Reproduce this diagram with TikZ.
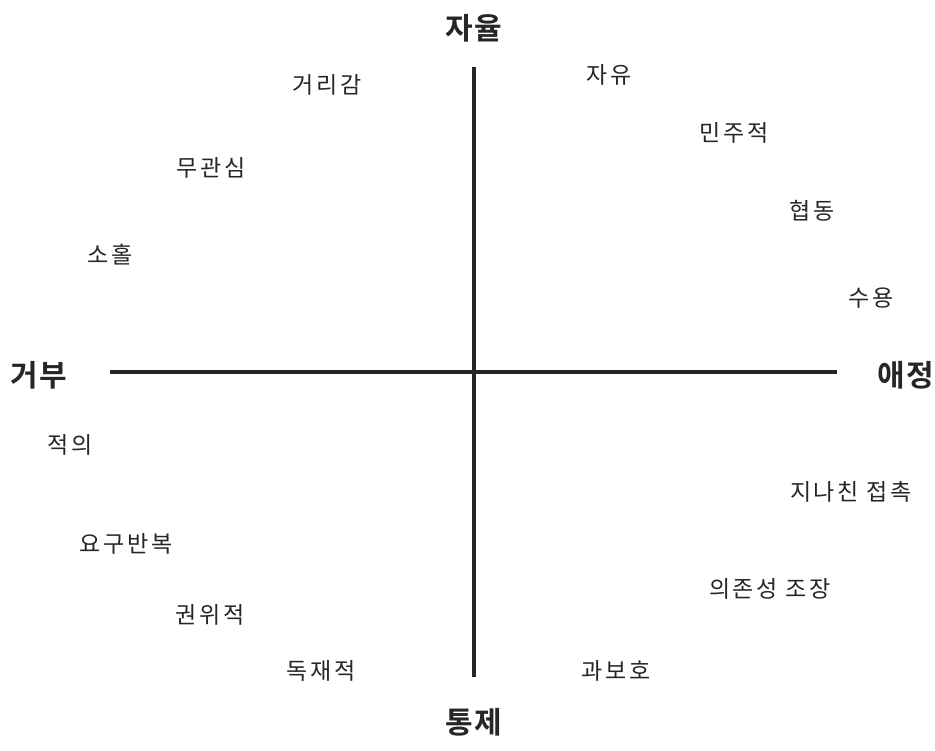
\documentclass[tikz,border=0pt]{standalone}
\usepackage{fontspec}
\newfontfamily\kr[LetterSpace=12]{Noto Sans CJK KR}
\newfontfamily\krb[LetterSpace=4]{Noto Sans CJK KR Bold}
\begin{document}
\begin{tikzpicture}[x=1pt,y=-1pt,
  lab/.style={font=\kr\fontsize{23}{23}\selectfont, text=black!85, inner sep=0pt},
  axlab/.style={font=\krb\fontsize{30}{30}\selectfont, text=black!85, inner sep=0pt},
  axis/.style={line width=4pt, black!85}]
\useasboundingbox[fill=white] (0,0) rectangle (935,751);
\coordinate (top) at (474,67);
\coordinate (bot) at (474,677);
\coordinate (lft) at (110,372);
\coordinate (rgt) at (837,372);
\draw[axis] (top) -- (bot);
\draw[axis] (lft) -- (rgt);
\node[axlab] (n1) at (474,28) {자율};
\node[axlab] (n2) at (474,722) {통제};
\node[axlab] (n3) at (39,375) {거부};
\node[axlab] (n4) at (906,375) {애정};
\node[lab] (a1) at (327,85) {거리감};
\node[lab] (a2) at (609,75) {자유};
\node[lab] (a3) at (734,133) {민주적};
\node[lab] (a4) at (211,168) {무관심};
\node[lab] (a5) at (812,211) {협동};
\node[lab] (a6) at (110,255) {소홀};
\node[lab] (a7) at (871,298) {수용};
\node[lab] (a8) at (70,445) {적의};
\node[lab] (a9) at (851,492) {지나친 접촉};
\node[lab] (a10) at (126,544) {요구반복};
\node[lab] (a11) at (770,589) {의존성 조장};
\node[lab] (a12) at (210,615) {권위적};
\node[lab] (a13) at (321,671) {독재적};
\node[lab] (a14) at (616,671) {과보호};
\end{tikzpicture}
\end{document}
